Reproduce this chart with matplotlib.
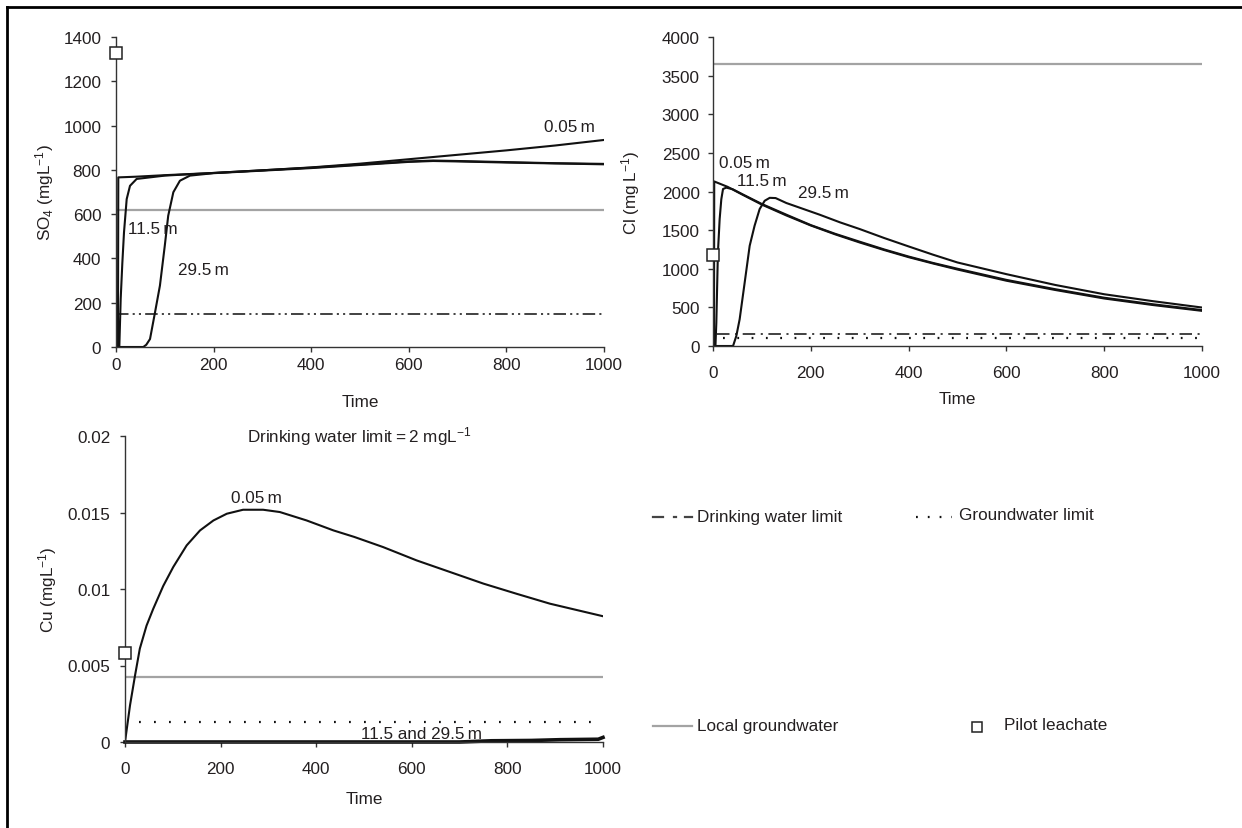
import matplotlib
matplotlib.use('Agg')
import matplotlib.pyplot as plt
from matplotlib.lines import Line2D

plt.rcParams['font.family'] = ['Liberation Sans', 'DejaVu Sans']
plt.rcParams['mathtext.default'] = 'regular'
plt.rcParams['font.size'] = 12.3
plt.rcParams['lines.scale_dashes'] = False

TEXT = '#231f20'
AX = '#333333'
GRAY = '#a3a3a3'

# ---------------- data ----------------
time_range = [0, 1000]

# SO4 panel
so4_t_005 = [0, 4, 4.7, 40, 100, 200, 300, 400, 500, 620, 700, 800, 900, 1000]
so4_005 = [0, 0, 766, 769, 776, 786, 798, 811, 828, 852, 868, 888, 910, 935]
so4_t_115 = [0, 6.8, 9.6, 13, 16.4, 21.9, 28.7, 42.3, 100, 200, 400, 600, 650, 700, 800, 900, 1000]
so4_115 = [0, 0, 217, 380, 518, 668, 728, 759, 774, 786, 810, 838, 842, 840, 835, 830, 827]
so4_t_295 = [0, 56, 62, 69.7, 80, 90, 100, 107, 117.5, 131, 151.6, 200, 400, 600, 650, 700, 800, 900, 1000]
so4_295 = [0, 0, 10, 36, 157, 277, 458, 593, 699, 751, 774, 785, 808, 836, 840, 838, 833, 829, 825]
so4_local_gw = 620
so4_drink = 150
so4_pilot = 1330

# Cl panel
cl_t_005 = [0, 2, 2.5, 30, 60, 100, 150, 200, 250, 300, 350, 400, 450, 500, 600, 700, 800, 900, 1000]
cl_005 = [0, 0, 2130, 2060, 1960, 1830, 1690, 1560, 1445, 1340, 1242, 1150, 1068, 990, 845, 725, 615, 530, 455]
cl_t_115 = [0, 5, 6.8, 10, 13.6, 17, 20.5, 27, 40, 60, 100, 150, 200, 250, 300, 350, 400, 450, 500,
            600, 700, 800, 900, 1000]
cl_115 = [0, 0, 300, 1200, 1643, 1900, 2032, 2050, 2030, 1965, 1838, 1700, 1565, 1452, 1350, 1250,
          1158, 1075, 1000, 856, 735, 625, 540, 465]
cl_t_295 = [0, 41, 47.7, 54.5, 64.8, 75, 85, 95.4, 105.7, 116, 128, 150, 191, 218, 260, 300, 350,
            400, 450, 500, 600, 700, 800, 900, 1000]
cl_295 = [0, 0, 130, 346, 822, 1297, 1556, 1773, 1880, 1918, 1915, 1851, 1760, 1700, 1600, 1514,
          1398, 1289, 1182, 1081, 930, 790, 670, 580, 498]
cl_local_gw = 3650
cl_drink = 150
cl_gw_limit = 100
cl_pilot = 1180

# Cu panel
cu_t_005 = [0, 10.5, 21, 31, 45, 59, 80, 101, 129, 157, 185, 213, 247, 289, 324, 380, 436, 480,
            540, 610, 680, 750, 819, 889, 1000]
cu_005 = [0, 0.0024, 0.00435, 0.0061, 0.0076, 0.0087, 0.0102, 0.01144, 0.01285, 0.01383, 0.01448,
          0.01492, 0.01518, 0.01518, 0.01503, 0.01448, 0.01383, 0.0134, 0.01274, 0.01187, 0.01111,
          0.01035, 0.00969, 0.00904, 0.00822]
cu_t_deep = [0, 700, 767, 850, 910, 990, 1000]
cu_deep = [0, 0, 0.00008, 0.0001, 0.00015, 0.00018, 0.0003]
cu_local_gw = 0.00425
cu_gw_limit = 0.0013
cu_pilot = 0.0058

so4_yticks = [0, 200, 400, 600, 800, 1000, 1200, 1400]
cl_yticks = [0, 500, 1000, 1500, 2000, 2500, 3000, 3500, 4000]
cu_yticks = [0, 0.005, 0.01, 0.015, 0.02]
cu_yticklabels = ['0', '0.005', '0.01', '0.015', '0.02']
xticks = [0, 200, 400, 600, 800, 1000]

# ---------------- figure ----------------
W, H = 1242, 829
fig = plt.figure(figsize=(W / 100, H / 100), dpi=100)


def add_ax(l, t, r, b):
    return fig.add_axes([l / W, 1 - b / H, (r - l) / W, (b - t) / H])


def style(ax, ylim, yticks, xpad, ypad, xlab_y, ylab_x, yticklabels=None):
    for s in ['top', 'right']:
        ax.spines[s].set_visible(False)
    for s in ['left', 'bottom']:
        ax.spines[s].set_color(AX)
        ax.spines[s].set_linewidth(1.0)
    ax.set_xlim(0, 1000)
    ax.set_ylim(*ylim)
    ax.set_xticks(xticks)
    ax.set_yticks(yticks)
    if yticklabels is not None:
        ax.set_yticklabels(yticklabels)
    ax.tick_params(axis='x', direction='out', length=3.6, width=1, colors=AX,
                   labelcolor=TEXT, labelsize=12.3, pad=xpad)
    ax.tick_params(axis='y', direction='out', length=3.6, width=1, colors=AX,
                   labelcolor=TEXT, labelsize=12.3, pad=ypad)
    ax.set_xlabel('Time', color=TEXT, fontsize=12.3)
    ax.xaxis.set_label_coords(0.5, xlab_y)
    ax.yaxis.set_label_coords(ylab_x, 0.5)
    ax.patch.set_alpha(0)


curve_kw = dict(color='#111111', lw=1.5, solid_joinstyle='round')
pilot_kw = dict(marker='s', ms=8, mfc='white', mec='#222222', mew=1.1, ls='none',
                clip_on=False, zorder=5)

# SO4
ax1 = add_ax(116, 38, 604, 348)
ax1.plot(time_range, [so4_local_gw] * 2, color=GRAY, lw=1.6)
l = ax1.plot(time_range, [so4_drink] * 2, color=AX, lw=1.3)[0]
l.set_dashes((9, 3, 1.5, 3, 1.5, 3))
ax1.plot(so4_t_005, so4_005, **curve_kw)
ax1.plot(so4_t_115, so4_115, **curve_kw)
ax1.plot(so4_t_295, so4_295, **curve_kw)
ax1.plot([0], [so4_pilot], **pilot_kw)
style(ax1, (0, 1400), so4_yticks, xpad=3.5, ypad=7, xlab_y=-0.152, ylab_x=-0.123)
ax1.set_ylabel('SO$_4$ (mgL$^{-1}$)', color=TEXT, fontsize=12.3)
ax1.text(930, 995, '0.05\u2009m', ha='center', va='center', color=TEXT)
ax1.text(76, 533, '11.5\u2009m', ha='center', va='center', color=TEXT)
ax1.text(180, 352, '29.5\u2009m', ha='center', va='center', color=TEXT)

# Cl
ax2 = add_ax(713, 38, 1202, 347)
ax2.plot(time_range, [cl_local_gw] * 2, color=GRAY, lw=1.6)
l = ax2.plot([8, 1000], [cl_drink] * 2, color=AX, lw=1.3)[0]
l.set_dashes((9, 4, 1.5, 4))
l = ax2.plot([20, 1000], [cl_gw_limit] * 2, color='#111111', lw=1.6)[0]
l.set_dashes((1.3, 9))
ax2.plot(cl_t_005, cl_005, **curve_kw)
ax2.plot(cl_t_115, cl_115, **curve_kw)
ax2.plot(cl_t_295, cl_295, **curve_kw)
ax2.plot([0], [cl_pilot], **pilot_kw)
style(ax2, (0, 4000), cl_yticks, xpad=10, ypad=6, xlab_y=-0.146, ylab_x=-0.145)
ax2.set_ylabel('Cl (mg\u2009L$^{-1}$)', color=TEXT, fontsize=12.3)
ax2.text(65, 2379, '0.05\u2009m', ha='center', va='center', color=TEXT)
ax2.text(100, 2140, '11.5\u2009m', ha='center', va='center', color=TEXT)
ax2.text(225, 1990, '29.5\u2009m', ha='center', va='center', color=TEXT)

# Cu
ax3 = add_ax(125, 437, 603, 743)
ax3.plot(time_range, [cu_local_gw] * 2, color=GRAY, lw=1.6)
l = ax3.plot([30, 1000], [cu_gw_limit] * 2, color='#111111', lw=1.6)[0]
l.set_dashes((1.3, 9.5))
ax3.plot(cu_t_005, cu_005, **curve_kw)
ax3.plot(cu_t_deep, cu_deep, color='#111111', lw=2.6, clip_on=False)
ax3.plot([0], [cu_pilot], **pilot_kw)
style(ax3, (0, 0.02), cu_yticks, xpad=10, ypad=7, xlab_y=-0.160, ylab_x=-0.138,
      yticklabels=cu_yticklabels)
ax3.set_ylabel('Cu (mgL$^{-1}$)', color=TEXT, fontsize=12.3)
ax3.text(274, 0.0160, '0.05\u2009m', ha='center', va='center', color=TEXT)
ax3.text(621, 0.00055, '11.5 and 29.5\u2009m', ha='center', va='center', color=TEXT)
ax3.text(0.49, 1.0, 'Drinking water limit\u2009=\u20092 mgL$^{-1}$', transform=ax3.transAxes,
         ha='center', va='center', color=TEXT)

# ---------------- legend (manual) ----------------
def fx(x):
    return x / W


def fy(y):
    return 1 - y / H


# Drinking water limit
fig.add_artist(Line2D([fx(653), fx(663)], [fy(518)] * 2, color='#444444', lw=1.6))
fig.add_artist(Line2D([fx(674), fx(676)], [fy(518)] * 2, color='#444444', lw=1.6))
fig.add_artist(Line2D([fx(685), fx(692)], [fy(518)] * 2, color='#444444', lw=1.6))
fig.text(fx(697), fy(518), 'Drinking water limit', ha='left', va='center', color=TEXT)
# Groundwater limit
gw = Line2D([fx(916), fx(952)], [fy(518)] * 2, color='#111111', lw=1.6)
gw.set_dashes((1.3, 7.2))
fig.add_artist(gw)
fig.text(fx(959), fy(516), 'Groundwater limit', ha='left', va='center', color=TEXT)
# Local groundwater
fig.add_artist(Line2D([fx(653), fx(692)], [fy(727)] * 2, color=GRAY, lw=1.6))
fig.text(fx(697), fy(727), 'Local groundwater', ha='left', va='center', color=TEXT)
# Pilot leachate
fig.add_artist(Line2D([fx(977)], [fy(728)], marker='s', ms=7.5, mfc='white',
                      mec='#222222', mew=1.1, ls='none'))
fig.text(fx(1004), fy(726), 'Pilot leachate', ha='left', va='center', color=TEXT)

# frame (top and left edges)
fig.add_artist(Line2D([fx(7), 1.0], [fy(8)] * 2, color='black', lw=2))
fig.add_artist(Line2D([fx(7), fx(7)], [fy(8), 0.0], color='black', lw=2))

fig.savefig('out.png', dpi=100)
